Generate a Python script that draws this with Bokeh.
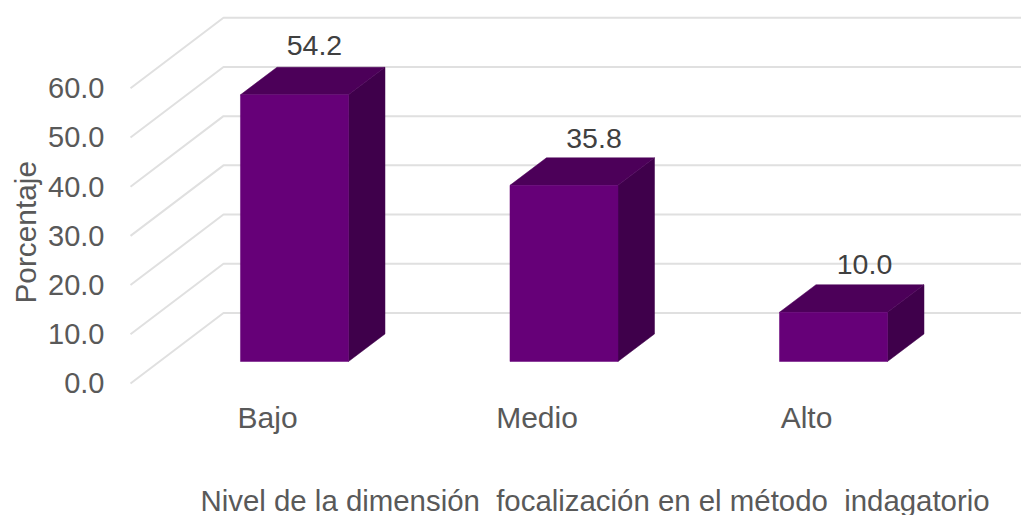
from bokeh.core.properties import value
from bokeh.embed import file_html
from bokeh.models import ColumnDataSource, FixedTicker, LinearAxis, Range1d, Title
from bokeh.plotting import figure
from bokeh.resources import INLINE

categories = ["Bajo", "Medio", "Alto"]
percentages = [54.2, 35.8, 10.0]
tick_values = [0, 10, 20, 30, 40, 50, 60]
y_title = "Porcentaje"
x_title = "Nivel de la dimensión\u00a0 focalización en el método\u00a0 indagatorio"

# Box projection, in data units
HALF_WIDTH = 0.2004
DEPTH_X = 0.1354
DEPTH_Y = 5.6
WALL_BACK_X = -0.2635
WALL_FRONT_X = -0.6085
WALL_BACK_Y = 9.86
WALL_FRONT_Y = -4.47
LABEL_SHIFT = 0.1

# Hand placement of the value labels, in pixels
VALUE_DX = [20, 30, 31]
VALUE_DY = [-22, -19, -20]

FRONT = "#660078"
TOP = "#4C0059"
SIDE = "#3F004B"
GRID = "#E0E0E0"
AXIS_TEXT = "#595959"
VALUE_TEXT = "#404040"
FONT = "Liberation Sans"

x0, x1 = -0.6827, 2.6976
y0, y1 = -7.93, 73.37

p = figure(
    width=1021, height=515, frame_width=911, frame_height=400,
    x_range=Range1d(x0, x1), y_range=Range1d(y0, y1),
    output_backend="svg", toolbar_location=None,
    min_border_left=110, min_border_right=0, min_border_top=0, min_border_bottom=115,
)
p.xgrid.visible = False
p.ygrid.visible = False
p.outline_line_color = None
p.xaxis.visible = False
p.yaxis.visible = False

# Wall and floor rules: a slanted run to the axis, then flat along the back
wall_xs = [[WALL_FRONT_X, WALL_BACK_X, x1] for _ in tick_values]
wall_ys = [[t + WALL_FRONT_Y, t + WALL_BACK_Y, t + WALL_BACK_Y] for t in tick_values]
p.multi_line(wall_xs, wall_ys, line_color=GRID, line_width=2)

# Boxes
for i, v in enumerate(percentages):
    l, r = i - HALF_WIDTH, i + HALF_WIDTH
    p.patch([r, r + DEPTH_X, r + DEPTH_X, r], [0, DEPTH_Y, v + DEPTH_Y, v],
            fill_color=SIDE, line_color=SIDE, line_width=0.5)
    p.patch([l, r, r + DEPTH_X, l + DEPTH_X], [v, v, v + DEPTH_Y, v + DEPTH_Y],
            fill_color=TOP, line_color=TOP, line_width=0.5)
    p.quad(left=l, right=r, bottom=0, top=v, fill_color=FRONT, line_color=FRONT, line_width=0.5)

# Value labels above each box
src = ColumnDataSource(dict(
    x=list(range(len(percentages))),
    y=[v + DEPTH_Y for v in percentages],
    t=[f"{v:.1f}" for v in percentages],
    dx=VALUE_DX,
    dy=VALUE_DY,
))
p.text("x", "y", text="t", source=src, text_align="center", text_baseline="middle",
       x_offset="dx", y_offset="dy", text_font=value(FONT), text_font_size="28.5px",
       text_color=VALUE_TEXT)

# Value axis, offset to sit at the front end of the rules
p.extra_y_ranges["front"] = Range1d(y0 - WALL_FRONT_Y, y1 - WALL_FRONT_Y)
y_axis = LinearAxis(
    y_range_name="front", ticker=FixedTicker(ticks=tick_values),
    major_label_overrides={t: f"{t:.1f}" for t in tick_values},
    axis_line_color=None, major_tick_line_color=None, minor_tick_line_color=None,
    major_tick_in=0, major_tick_out=0, major_label_standoff=6,
    major_label_text_font=FONT, major_label_text_font_size="29px",
    major_label_text_color=AXIS_TEXT,
)
p.add_layout(y_axis, "left")

# Category axis, shifted left of the boxes
p.extra_x_ranges["cats"] = Range1d(x0 + LABEL_SHIFT, x1 + LABEL_SHIFT)
x_axis = LinearAxis(
    x_range_name="cats", ticker=FixedTicker(ticks=list(range(len(categories)))),
    major_label_overrides={i: c for i, c in enumerate(categories)},
    axis_line_color=None, major_tick_line_color=None, minor_tick_line_color=None,
    major_tick_in=0, major_tick_out=0, major_label_standoff=0,
    major_label_text_font=FONT, major_label_text_font_size="30px",
    major_label_text_color=AXIS_TEXT,
)
p.add_layout(x_axis, "below")

# Axis titles sit in the outer panels, started from the frame's corner
p.add_layout(Title(
    text=x_title, align="left", offset=90, standoff=90,
    text_font=FONT, text_font_size="29.4px", text_font_style="normal",
    text_color=AXIS_TEXT,
), "below")
p.add_layout(Title(
    text=y_title, align="left", offset=97, standoff=7,
    text_font=FONT, text_font_size="29.8px", text_font_style="normal",
    text_color=AXIS_TEXT,
), "left")

open("out.html", "w").write(file_html(p, INLINE))
